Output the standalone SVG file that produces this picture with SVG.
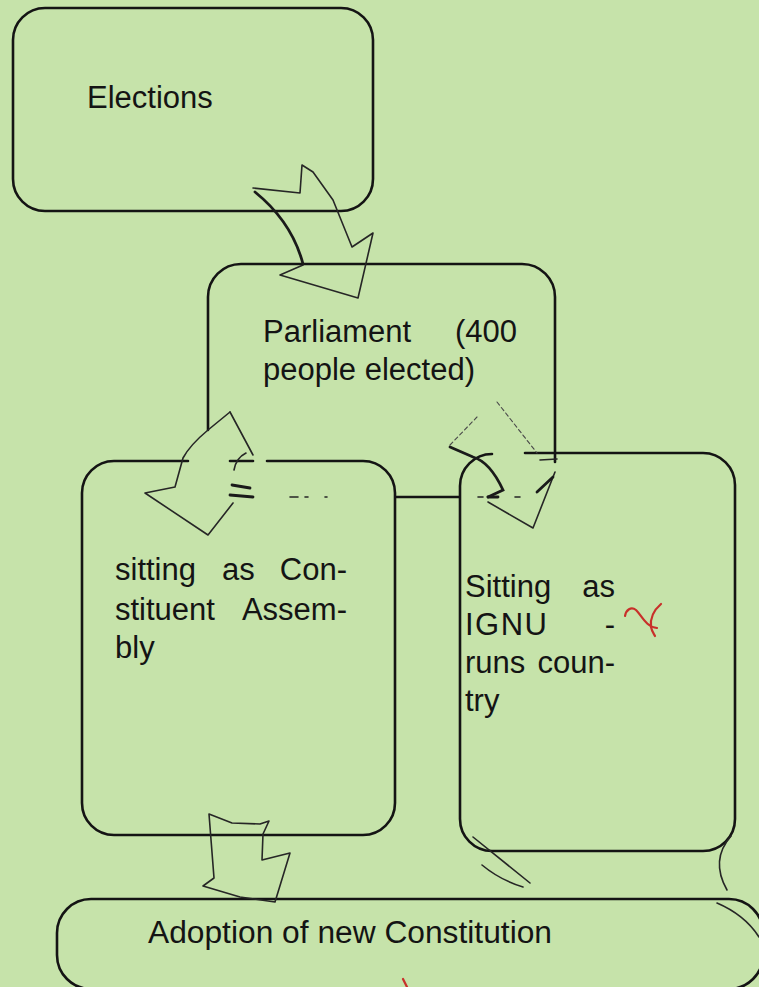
<svg xmlns="http://www.w3.org/2000/svg" width="759" height="987" viewBox="0 0 759 987">
<style>
.box{fill:none;stroke:#141414;stroke-width:2.6;stroke-linecap:round}
.fill{fill:#c6e3aa;stroke:none}
.pen{fill:none;stroke:#262626;stroke-width:1.6;stroke-linecap:round;stroke-linejoin:round}
.thick{fill:none;stroke:#1a1a1a;stroke-width:2.8;stroke-linecap:round}
.faint{fill:none;stroke:#4a4a4a;stroke-width:1.1;stroke-linecap:round;stroke-dasharray:4 3}
.t{font-family:"Liberation Sans",Arial,sans-serif;font-size:31px;fill:#141414}
.red{fill:none;stroke:#c8302a;stroke-width:2.2;stroke-linecap:round}
</style>
<rect x="0" y="0" width="759" height="987" fill="#c6e3aa"/>

<g id="node-parliament">
<path class="box" d="M208,430 V297 A33,33 0 0 1 241,264 H522 A33,33 0 0 1 555,297 V497 H208"/>
<text class="t" y="342"><tspan x="263">Parliament</tspan><tspan x="517" text-anchor="end">(400</tspan></text>
<text class="t" x="263" y="380">people elected)</text>
</g>

<g id="node-elections">
<rect class="box" x="13" y="8" width="360" height="203" rx="32"/>
<text class="t" x="87" y="108">Elections</text>
</g>

<g id="node-constituent">
<rect class="fill" x="82" y="461" width="313" height="374" rx="32"/>
<path class="box" d="M188,461 H114 A32,32 0 0 0 82,493 V803 A32,32 0 0 0 114,835 H363 A32,32 0 0 0 395,803 V493 A32,32 0 0 0 363,461 H267"/>
<path class="box" d="M230,461 H253"/>
<text class="t" y="580"><tspan x="115">sitting</tspan><tspan x="222">as</tspan><tspan x="347" text-anchor="end">Con-</tspan></text>
<text class="t" y="620"><tspan x="115">stituent</tspan><tspan x="347" text-anchor="end">Assem-</tspan></text>
<text class="t" x="115" y="658">bly</text>
</g>

<g id="node-ignu">
<rect class="fill" x="460" y="453" width="275" height="398" rx="32"/>
<path class="box" d="M492,454 A32,32 0 0 0 460,486 V819 A32,32 0 0 0 492,851 H703 A32,32 0 0 0 735,819 V485 A32,32 0 0 0 703,453 H525"/>
<path class="box" d="M555,453 V462"/>
<text class="t" y="597"><tspan x="465">Sitting</tspan><tspan x="615" text-anchor="end">as</tspan></text>
<text class="t" y="635"><tspan x="465" textLength="82">IGNU</tspan><tspan x="615" text-anchor="end">-</tspan></text>
<text class="t" y="673"><tspan x="465">runs</tspan><tspan x="615" text-anchor="end">coun-</tspan></text>
<text class="t" x="465" y="711">try</text>
</g>

<g id="node-adoption">
<rect class="box" x="57" y="899" width="706" height="90" rx="34"/>
<text class="t" x="148" y="943" font-size="31.5" textLength="404" lengthAdjust="spacingAndGlyphs">Adoption of new Constitution</text>
</g>

<g id="connectors">
<!-- Elections to Parliament -->
<path class="pen" d="M253,188 L300,193 L302,165 L313,172 L333,200 L352,247 L373,233 L358,298 L280,275 L303,265"/>
<path class="thick" d="M255,192 Q292,222 303,264"/>
<!-- Parliament to Constituent Assembly -->
<path class="pen" d="M230,412 L208,430 Q190,445 183,458 L175,487 L145,493 L208,535 L233,503"/>
<path class="pen" d="M230,412 L253,455"/>
<path class="pen" d="M246,453 Q236,458 234,470"/>
<path class="thick" d="M232,485 L250,488 M230,495 L253,497"/>
<path class="pen" d="M290,497 H298 M305,497 H308 M325,497 H327"/>
<!-- Parliament to IGNU -->
<path class="faint" d="M497,402 L537,453"/>
<path class="pen" d="M540,460 L557,459"/>
<path class="pen" d="M555,472 L533,528 L488,502"/>
<path class="thick" d="M488,497 L503,490 Q490,462 473,457 L450,447"/>
<path class="faint" d="M450,445 L477,417"/>
<path class="thick" d="M537,492 L553,477"/>
<path class="pen" d="M478,497 H483 M515,497 H520"/>
<path class="thick" d="M488,497 H498"/>
<!-- Constituent Assembly to Adoption -->
<path class="pen" stroke-width="2" d="M209,814 L232,823 L260,824 L269,821 L263,834 L262,860 L290,853 L275,902 L240,897 L203,886 L214,878 Z"/>
</g>

<g id="marks">
<path class="pen" d="M473,837 L530,883"/>
<path class="pen" stroke-width="1.1" d="M482,865 Q500,880 523,887"/>
<path class="pen" stroke-width="1.3" d="M731,836 Q710,860 727,890"/>
<path class="pen" stroke-width="1.1" d="M717,903 Q745,915 759,937"/>
<path class="red" d="M625,616 C626,610 631,606 636,610 C642,616 646,627 657,628"/>
<path class="red" d="M661,604 C654,610 650,618 651,627 C652,632 654,634 655,636"/>
<path class="red" stroke-width="1.6" d="M403,979 L407,987"/>
</g>
</svg>
